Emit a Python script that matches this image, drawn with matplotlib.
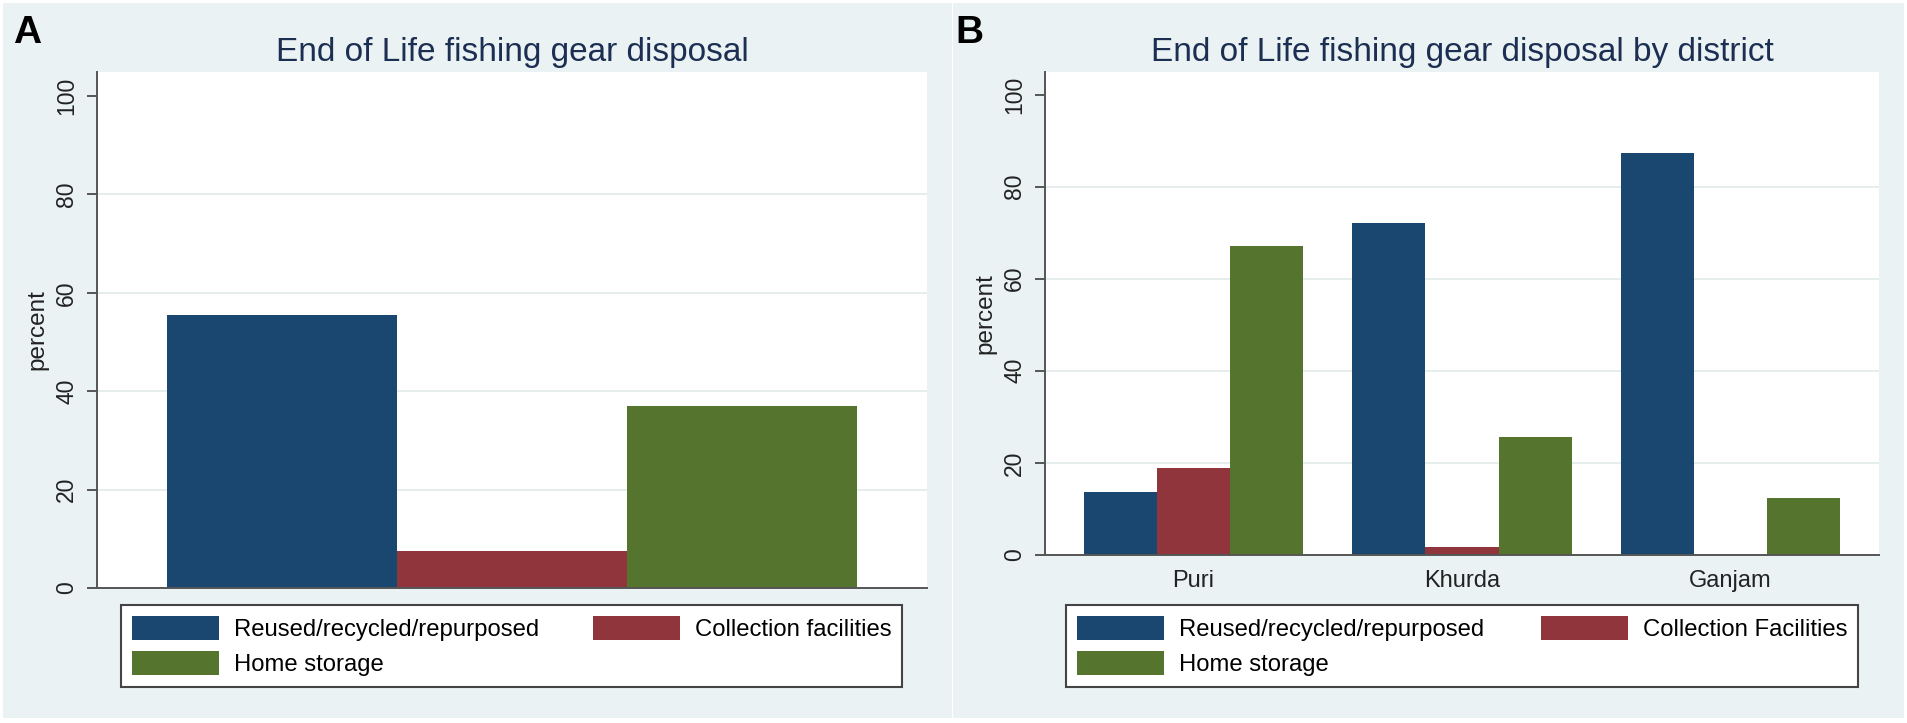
import matplotlib.pyplot as plt
from matplotlib.patches import Rectangle, Patch

plt.rcParams['font.family'] = ['Liberation Sans', 'DejaVu Sans']

# Panel A: overall disposal
disposal_types = ['Reused/recycled/repurposed', 'Collection facilities', 'Home storage']
overall_pct = [55.6, 7.5, 36.9]

# Panel B: disposal by district
districts = ['Puri', 'Khurda', 'Ganjam']
reused_pct = [13.7, 72.1, 87.4]
collection_pct = [18.8, 1.7, 0.0]
home_pct = [67.0, 25.7, 12.4]
series_b = ['Reused/recycled/repurposed', 'Collection Facilities', 'Home storage']

y_ticks = [0, 20, 40, 60, 80, 100]
grid_ticks = [20, 40, 60, 80]

navy = '#1a476f'
maroon = '#90353b'
forest = '#55752f'
bg = '#eaf2f3'
title_col = '#1c2e52'
axis_col = '#555555'

W, H = 1907, 723
fig = plt.figure(figsize=(W / 100, H / 100), dpi=100)
fig.patch.set_facecolor('white')

# panel backgrounds (Stata graph region)
fig.add_artist(Rectangle((3 / W, 1 - 718 / H), (952 - 3) / W, (718 - 3) / H,
                         transform=fig.transFigure, facecolor=bg, edgecolor='none', zorder=0))
fig.add_artist(Rectangle((953 / W, 1 - 718 / H), (1904 - 953) / W, (718 - 3) / H,
                         transform=fig.transFigure, facecolor=bg, edgecolor='none', zorder=0))


def px_axes(x0, x1, top, bottom):
    return fig.add_axes([x0 / W, 1 - bottom / H, (x1 - x0) / W, (bottom - top) / H])


def style_axes(ax, title):
    ax.set_facecolor('white')
    ax.set_ylim(0, 105)
    ax.set_yticks(y_ticks)
    for g in grid_ticks:
        ax.axhline(g, color='#e3ecec', linewidth=1.3, zorder=0)
    for s in ['top', 'right']:
        ax.spines[s].set_visible(False)
    for s in ['left', 'bottom']:
        ax.spines[s].set_color(axis_col)
        ax.spines[s].set_linewidth(1.4)
    ax.tick_params(axis='y', length=7, width=1.4, color=axis_col, pad=6.5,
                   labelsize=16.5, labelrotation=90, labelcolor='#222222')
    for lab in ax.get_yticklabels():
        lab.set_va('center')
    ax.set_ylabel('percent', fontsize=17.5, labelpad=5, color='#222222')
    ax.set_title(title, fontsize=24, color=title_col, pad=7.5)


def add_legend(handles, labels, x0, x1):
    leg = fig.legend(handles, labels, ncol=2, mode='expand', loc='upper left',
                     bbox_to_anchor=(x0 / W, 1 - 686 / H, (x1 - x0) / W, 81 / H),
                     bbox_transform=fig.transFigure, borderaxespad=0,
                     fontsize=17.2, handlelength=3.65, handleheight=1.2, handletextpad=0.62,
                     borderpad=0.45, labelspacing=0.4, fancybox=False, framealpha=1,
                     edgecolor='#444444')
    leg.get_frame().set_linewidth(1.5)
    return leg


# ---- Panel A ----
axA = px_axes(97, 927, 71.5, 588)
bar_colors_a = [navy, maroon, forest]
axA.bar(range(len(disposal_types)), overall_pct, width=1.0, color=bar_colors_a, linewidth=0, zorder=2)
axA.set_xlim(-0.804, 2.804)
axA.set_xticks([])
style_axes(axA, 'End of Life fishing gear disposal')

handles_a = [Patch(facecolor=c, edgecolor='none') for c in bar_colors_a]
order = [0, 2, 1]
add_legend([handles_a[i] for i in order], [disposal_types[i] for i in order], 121, 902)

# ---- Panel B ----
axB = px_axes(1045, 1879, 71.5, 555)
bw = 0.272
xs = list(range(len(districts)))
b1 = axB.bar([x - bw for x in xs], reused_pct, width=bw, color=navy, linewidth=0, zorder=2)
b2 = axB.bar(xs, collection_pct, width=bw, color=maroon, linewidth=0, zorder=2)
b3 = axB.bar([x + bw for x in xs], home_pct, width=bw, color=forest, linewidth=0, zorder=2)
axB.set_xlim(-0.553, 2.553)
axB.set_xticks(xs)
axB.set_xticklabels(districts)
axB.tick_params(axis='x', length=0, pad=11, labelsize=17, labelcolor='#222222')
style_axes(axB, 'End of Life fishing gear disposal by district')

add_legend([b1, b3, b2], [series_b[0], series_b[2], series_b[1]], 1066, 1858)

# panel letters
fig.text(13 / W, 1 - 43 / H, 'A', fontsize=28, fontweight='bold', va='baseline', ha='left')
fig.text(955 / W, 1 - 43 / H, 'B', fontsize=28, fontweight='bold', va='baseline', ha='left')

fig.savefig('out.png', dpi=100)
